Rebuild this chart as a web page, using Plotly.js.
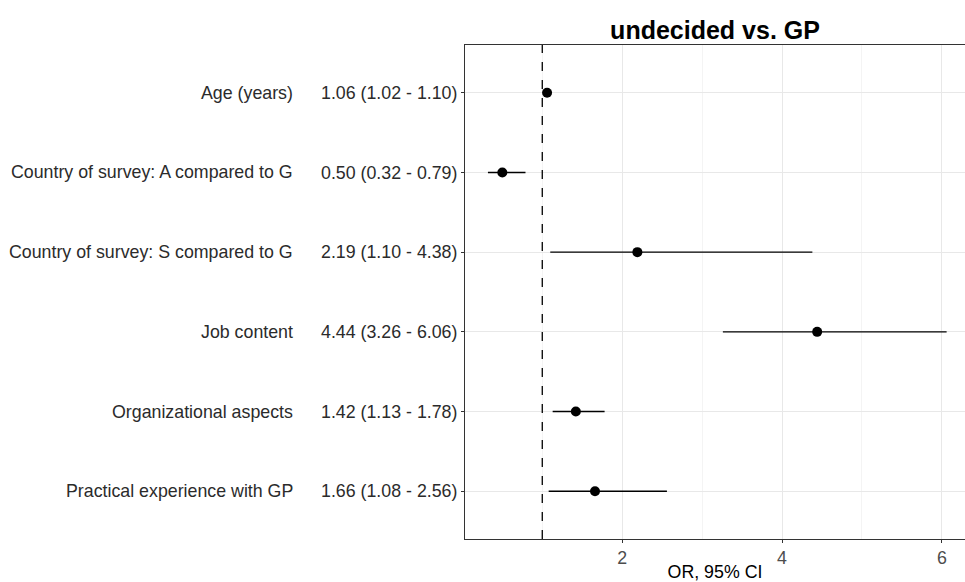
<!DOCTYPE html>
<html>
<head>
<meta charset="utf-8">
<script src="https://cdn.plot.ly/plotly-3.0.1.min.js"></script>
<style>html,body{margin:0;padding:0;background:#fff;}#chart{width:965px;height:582px;}</style>
</head>
<body>
<div id="chart"></div>
<script>
const variables = ["Age (years)", "Country of survey: A compared to G", "Country of survey: S compared to G", "Job content", "Organizational aspects", "Practical experience with GP"];
const oddsRatio = [1.06, 0.50, 2.19, 4.44, 1.42, 1.66];
const ciLower = [1.02, 0.32, 1.10, 3.26, 1.13, 1.08];
const ciUpper = [1.10, 0.79, 4.38, 6.06, 1.78, 2.56];
const orLabels = ["1.06 (1.02 - 1.10)", "0.50 (0.32 - 0.79)", "2.19 (1.10 - 4.38)", "4.44 (3.26 - 6.06)", "1.42 (1.13 - 1.78)", "1.66 (1.08 - 2.56)"];
const referenceLine = [1];
const xTicks = [2, 4, 6];

const font = "Liberation Sans, Arial, Helvetica, sans-serif";
const fs = 17.8;

const trace = {
  type: "scatter",
  mode: "markers",
  x: oddsRatio,
  y: variables,
  marker: {color: "#000", size: 10},
  error_x: {
    type: "data", symmetric: false,
    array: oddsRatio.map((v, i) => ciUpper[i] - v),
    arrayminus: oddsRatio.map((v, i) => v - ciLower[i]),
    width: 0, thickness: 1.4, color: "#000"
  },
  hoverinfo: "x+y",
  showlegend: false
};

const annotations = variables.map(v => ({
  text: v, x: -0.34, xref: "paper", xanchor: "right",
  y: v, yref: "y", yanchor: "middle", showarrow: false,
  font: {family: font, size: fs, color: "#2b2b2b"}
}));

const layout = {
  width: 965, height: 582,
  margin: {l: 465, r: 0, t: 45, b: 43},
  paper_bgcolor: "#fff", plot_bgcolor: "#fff",
  font: {family: font, color: "#2b2b2b"},
  title: {
    text: "<b>undecided vs. GP</b>",
    font: {family: font, size: 25, color: "#000"},
    x: 0.5, xref: "paper", xanchor: "center",
    y: 1 - 30/582, yref: "container", yanchor: "middle"
  },
  xaxis: {
    range: [0.033, 6.29],
    tickvals: xTicks,
    ticks: "outside", ticklen: 3, tickcolor: "#333",
    tickfont: {family: font, size: fs, color: "#4D4D4D"},
    showgrid: true, gridcolor: "#E8E8E8", gridwidth: 1,
    minor: {dtick: 1, tick0: 0, showgrid: true, gridcolor: "#F0F0F0", gridwidth: 0.7},
    zeroline: false,
    showline: true, linecolor: "#333", linewidth: 1, mirror: true,
    title: {text: "OR, 95% CI", font: {family: font, size: fs, color: "#000"}, standoff: 0}
  },
  yaxis: {
    type: "category",
    categoryorder: "array",
    categoryarray: variables.slice().reverse(),
    range: [-0.6, 5.6],
    tickvals: variables,
    ticktext: orLabels,
    ticks: "outside", ticklen: 3, tickcolor: "#333",
    tickfont: {family: font, size: fs, color: "#2b2b2b"},
    showgrid: true, gridcolor: "#E8E8E8", gridwidth: 1,
    zeroline: false,
    showline: true, linecolor: "#333", linewidth: 1, mirror: true
  },
  shapes: referenceLine.map(r => ({
    type: "line", xref: "x", yref: "paper", x0: r, x1: r, y0: 0, y1: 1,
    line: {color: "#000", width: 1.3, dash: "dash"}
  })),
  annotations: annotations
};

Plotly.newPlot("chart", [trace], layout, {displayModeBar: false, staticPlot: true});
</script>
</body>
</html>
